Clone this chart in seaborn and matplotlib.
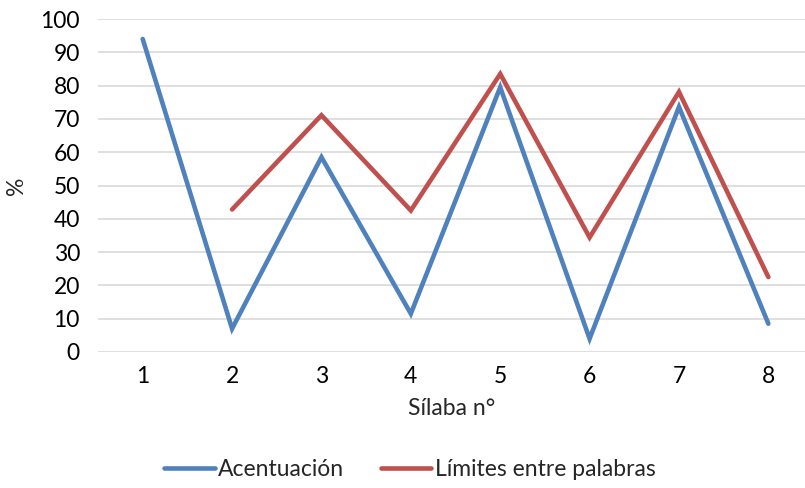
import numpy as np
import pandas as pd
import matplotlib
matplotlib.use("Agg")
import matplotlib.pyplot as plt
import seaborn as sns

# datos
silabas = [1, 2, 3, 4, 5, 6, 7, 8]
acentuacion = [94, 7, 58.5, 11.5, 79.5, 4, 73.6, 8.5]
limites = [np.nan, 42.8, 71.1, 42.5, 83.5, 34.4, 78.1, 22.5]
series = ["Acentuación", "Límites entre palabras"]
colores = ["#4F81BD", "#C0504D"]
yticks = [0, 10, 20, 30, 40, 50, 60, 70, 80, 90, 100]

df = pd.DataFrame({
    "silaba": silabas * 2,
    "valor": acentuacion + limites,
    "serie": [series[0]] * len(silabas) + [series[1]] * len(silabas),
}).dropna()

sns.set_theme(style="white")
plt.rcParams["font.family"] = ["Lato", "DejaVu Sans"]
fs = 16.5

fig = plt.figure(figsize=(8.05, 4.88), dpi=100)
ax = fig.add_axes([98 / 805, 1 - 352 / 488, 707 / 805, 333 / 488])

sns.lineplot(data=df, x="silaba", y="valor", hue="serie", hue_order=series,
             palette=colores, linewidth=3.3, ax=ax, legend=True,
             solid_capstyle="round", solid_joinstyle="miter")

ax.set_xlim(0.5, 8.41)
ax.set_ylim(0, 100)
ax.set_yticks(yticks)
ax.set_xticks(silabas)
ax.yaxis.grid(True, color="#d9d9d9", linewidth=1.2)
ax.set_axisbelow(True)
for s in ax.spines.values():
    s.set_visible(False)
ax.tick_params(axis="both", length=0, labelsize=fs, colors="black")
ax.tick_params(axis="x", pad=10)
ax.tick_params(axis="y", pad=13)
ax.set_xlabel("Sílaba n°", fontsize=fs, labelpad=8)
ax.set_ylabel("%", fontsize=fs, labelpad=10)

ax.legend(loc="center", bbox_to_anchor=(410 / 805, 1 - 470 / 488),
          bbox_transform=fig.transFigure, ncol=2, frameon=False,
          fontsize=fs, handlelength=2.2, handletextpad=0.15,
          columnspacing=1.6, title=None)

fig.savefig("out.png", dpi=100)
